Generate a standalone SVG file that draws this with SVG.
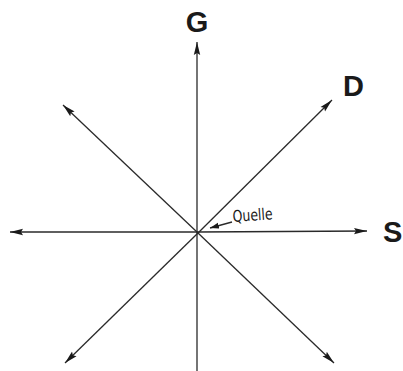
<svg xmlns="http://www.w3.org/2000/svg" width="403" height="371" viewBox="0 0 403 371">
<style>
.ax{stroke:#2a2a2a;stroke-width:1.3;fill:none}
.lbl{font-family:"Liberation Sans",Arial,sans-serif;font-weight:bold;font-size:29px;fill:#1a1a1a}
.q{font-family:"DejaVu Sans Condensed","Liberation Sans",sans-serif;font-size:16px;fill:#1a1a1a}
</style>
<defs>
<marker id="ah" markerUnits="userSpaceOnUse" markerWidth="14" markerHeight="8" refX="13" refY="4" orient="auto">
<path d="M0,0.8 L13,4 L0,7.2 L2,4 z" fill="#1a1a1a"/>
</marker>
<marker id="ahs" markerUnits="userSpaceOnUse" markerWidth="10" markerHeight="7" refX="9" refY="3.5" orient="auto">
<path d="M0,0.5 L9,3.5 L0,6.5 z" fill="#1a1a1a"/>
</marker>
</defs>
<rect width="403" height="371" fill="#ffffff"/>
<g id="connectors">
<line class="ax" x1="197" y1="371" x2="197" y2="42" marker-end="url(#ah)"/>
<line class="ax" x1="198" y1="233" x2="332" y2="100" marker-end="url(#ah)"/>
<line class="ax" x1="198" y1="233" x2="63" y2="105" marker-end="url(#ah)"/>
<line class="ax" x1="198" y1="233" x2="65" y2="363" marker-end="url(#ah)"/>
<line class="ax" x1="198" y1="233" x2="334" y2="363" marker-end="url(#ah)"/>
<line class="ax" x1="198" y1="232" x2="10" y2="232" marker-end="url(#ah)"/>
<line class="ax" x1="198" y1="232" x2="367" y2="231" marker-end="url(#ah)"/>
<line class="ax" x1="232" y1="222" x2="210" y2="228" marker-end="url(#ahs)"/>
</g>
<g id="node-G"><text class="lbl" x="197" y="32" text-anchor="middle">G</text></g>
<g id="node-D"><text class="lbl" x="343" y="96">D</text></g>
<g id="node-S"><text class="lbl" x="383" y="242">S</text></g>
<g id="node-Quelle"><text class="q" x="233" y="222" transform="rotate(-4 233 222)" textLength="40" lengthAdjust="spacingAndGlyphs">Quelle</text></g>
</svg>
